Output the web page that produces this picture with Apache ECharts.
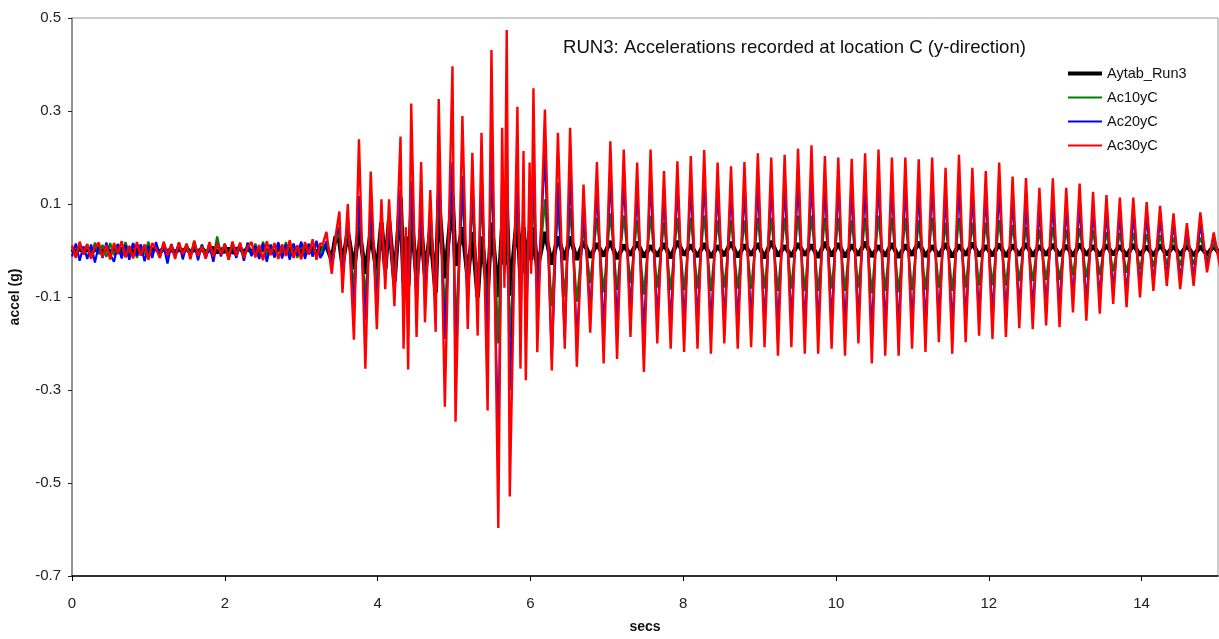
<!DOCTYPE html>
<html>
<head>
<meta charset="utf-8">
<script src="https://cdn.jsdelivr.net/npm/echarts@6/dist/echarts.min.js"></script>
<style>
  html, body { margin: 0; padding: 0; background: #fff; }
  #chart { width: 1219px; height: 639px; }
</style>
</head>
<body>
<div id="chart"></div>
<script>
// series names (legend order)
const seriesNames = ['Aytab_Run3', 'Ac10yC', 'Ac20yC', 'Ac30yC'];

// 0 - 3.25 s : pre-shaking noise, sampled every noiseStep seconds
const noiseStep = 0.05;
const noiseBlack = [
  0.003,-0.004,0.005,-0.002,0.004,-0.005,0.002,0.004,-0.003,0.005,
  -0.004,0.003,-0.005,0.004,-0.002,0.005,-0.004,0.003,-0.003,0.004,
  -0.005,0.002,0.004,-0.004,0.005,-0.003,0.003,-0.005,0.004,-0.002,
  0.005,-0.004,0.003,-0.003,0.004,-0.005,0.002,0.005,-0.004,0.003,
  -0.003,0.004,-0.005,0.003,0.004,-0.004,0.005,-0.003,0.002,-0.004,
  0.005,-0.003,0.004,-0.005,0.003,0.006,-0.004,0.005,-0.006,0.004,
  -0.005,0.006,-0.004,0.007,-0.006,0.005
];
const noiseGreen = [
  0.008,-0.012,0.015,-0.009,0.013,-0.015,0.017,-0.008,0.012,-0.014,
  0.016,-0.01,0.014,-0.013,0.018,-0.009,0.015,-0.016,0.012,-0.008,
  0.019,-0.013,0.014,-0.01,0.016,-0.015,0.013,-0.009,0.017,-0.013,
  0.015,-0.012,0.021,-0.014,0.013,-0.01,0.016,-0.015,0.03,-0.008,
  0.015,-0.013,0.018,-0.012,0.014,-0.016,0.017,-0.009,0.015,-0.014,
  0.019,-0.01,0.013,-0.015,0.016,-0.012,0.018,-0.013,0.014,-0.016,
  0.017,-0.01,0.015,-0.013,0.018,-0.012
];
const noiseBlue = [
  -0.013,0.015,-0.022,0.009,-0.018,0.013,-0.026,0.011,-0.016,0.017,
  -0.009,-0.024,0.014,-0.017,0.012,-0.02,0.016,-0.011,0.013,-0.023,
  0.01,-0.016,0.018,-0.013,0.009,-0.028,0.014,-0.012,0.016,-0.019,
  0.011,-0.015,0.015,-0.021,0.012,-0.017,0.009,-0.024,0.017,-0.013,
  0.014,-0.019,0.011,-0.016,0.013,-0.022,0.016,-0.012,0.01,-0.018,
  0.015,-0.024,0.012,-0.015,0.018,-0.017,0.013,-0.02,0.015,-0.011,
  0.019,-0.018,0.014,-0.013,0.021,-0.016
];
const noiseRed = [
  0.011,-0.016,0.019,-0.009,0.014,-0.018,0.007,0.017,-0.014,0.012,
  -0.019,0.016,-0.007,0.02,-0.015,0.01,-0.017,0.018,-0.011,0.013,
  -0.02,0.016,0.004,-0.016,0.019,-0.01,0.012,-0.018,0.017,-0.008,
  0.014,-0.019,0.021,-0.012,0.009,-0.017,0.018,-0.014,0.016,-0.009,
  0.013,-0.02,0.019,-0.011,0.017,-0.016,0.008,0.018,-0.015,0.012,
  -0.021,0.02,-0.01,0.016,-0.018,0.013,-0.012,0.022,-0.016,0.011,
  -0.019,0.018,-0.009,0.024,-0.02,0.016
];

// 3.28 - 6.45 s : strong shaking, turning points
const burstT = [
  3.28, 3.33, 3.40, 3.45, 3.50, 3.54, 3.61, 3.69, 3.756, 3.84,
  3.91, 3.99, 4.05, 4.10, 4.15, 4.22, 4.30, 4.34, 4.37, 4.40,
  4.44, 4.51, 4.57, 4.62, 4.69, 4.76, 4.80, 4.88, 4.98, 5.02,
  5.11, 5.18, 5.24, 5.31, 5.36, 5.44, 5.49, 5.58, 5.63, 5.66,
  5.69, 5.73, 5.83, 5.87, 5.91, 5.94, 5.99, 6.01, 6.04, 6.09,
  6.19, 6.28, 6.36, 6.45
];
const burstRed = [
  0.012, 0.04, -0.05, 0.03, 0.084, -0.091, 0.10, -0.192, 0.239, -0.254,
  0.17, -0.169, 0.11, -0.083, 0.11, -0.12, 0.245, -0.211, 0.05, -0.256,
  0.316, -0.186, 0.19, -0.154, 0.13, -0.175, 0.326, -0.336, 0.396, -0.368,
  0.289, -0.169, 0.21, -0.183, 0.253, -0.344, 0.431, -0.597, 0.264, -0.08,
  0.474, -0.529, 0.309, -0.254, 0.214, -0.279, 0.189, -0.05, 0.349, -0.219,
  0.303, -0.258, 0.253, -0.211
];
const burstBlue = [
  -0.008, 0.02, -0.03, 0.03, 0.05, -0.06, 0.07, -0.126, 0.117, -0.15,
  0.09, -0.11, 0.07, -0.06, 0.06, -0.09, 0.131, -0.15, 0.03, -0.17,
  0.149, -0.12, 0.1, -0.1, 0.09, -0.12, 0.19, -0.19, 0.19, -0.25,
  0.16, -0.12, 0.14, -0.12, 0.157, -0.207, 0.24, -0.426, 0.16, -0.05,
  0.232, -0.3, 0.18, -0.16, 0.12, -0.18, 0.1, -0.03, 0.2, -0.11,
  0.21, -0.233, 0.146, -0.19
];
const burstGreen = [
  0.006, 0.015, -0.02, 0.02, 0.04, -0.04, 0.05, -0.08, 0.09, -0.1,
  0.06, -0.07, 0.05, -0.04, 0.05, -0.06, 0.09, -0.1, 0.02, -0.11,
  0.1, -0.09, 0.08, -0.07, 0.06, -0.08, 0.14, -0.13, 0.15, -0.17,
  0.12, -0.09, 0.1, -0.08, 0.11, -0.15, 0.167, -0.2, 0.12, -0.04,
  0.14, -0.19, 0.12, -0.1, 0.09, -0.12, 0.07, -0.02, 0.13, -0.09,
  0.11, -0.12, 0.09, -0.1
];
const burstBlack = [
  0.004, 0.01, -0.02, 0.03, 0.02, -0.03, 0.04, -0.04, 0.05, -0.05,
  0.04, -0.05, 0.06, -0.04, 0.064, -0.067, 0.114, -0.067, 0.03, -0.076,
  0.082, -0.06, 0.05, -0.05, 0.04, -0.09, 0.11, -0.06, 0.117, -0.033,
  0.05, -0.06, 0.04, -0.1, 0.03, -0.09, 0.06, -0.1, 0.05, -0.03,
  0.093, -0.097, 0.08, -0.06, 0.05, -0.05, 0.04, -0.02, 0.05, -0.04,
  0.04, -0.03, 0.03, -0.02
];

// 6.52 s onward : free vibration, one peak + one trough per cycle
const cycleStart = 6.52;
const cyclePeriod = 0.1755;
const redHi = [
  0.264, 0.142, 0.19, 0.235, 0.217, 0.189, 0.217, 0.171, 0.192, 0.203,
  0.216, 0.189, 0.181, 0.19, 0.209, 0.2, 0.206, 0.219, 0.226, 0.203,
  0.2, 0.197, 0.209, 0.217, 0.2, 0.2, 0.196, 0.2, 0.178, 0.206,
  0.178, 0.171, 0.189, 0.159, 0.156, 0.135, 0.155, 0.135, 0.144, 0.126,
  0.119, 0.114, 0.114, 0.104, 0.096, 0.08, 0.059, 0.082, 0.039
];
const redLo = [
  -0.25, -0.177, -0.243, -0.233, -0.186, -0.261, -0.2, -0.211, -0.218, -0.211,
  -0.222, -0.2, -0.211, -0.208, -0.208, -0.226, -0.208, -0.222, -0.222, -0.211,
  -0.226, -0.2, -0.243, -0.226, -0.226, -0.211, -0.218, -0.197, -0.222, -0.197,
  -0.183, -0.19, -0.186, -0.167, -0.169, -0.161, -0.165, -0.133, -0.151, -0.136,
  -0.115, -0.122, -0.101, -0.087, -0.076, -0.083, -0.076, -0.047, -0.04
];
const blueHi = [
  0.17, 0.09, 0.13, 0.16, 0.15, 0.13, 0.15, 0.12, 0.14, 0.14,
  0.15, 0.13, 0.13, 0.13, 0.14, 0.14, 0.14, 0.15, 0.15, 0.14,
  0.14, 0.13, 0.14, 0.15, 0.14, 0.14, 0.13, 0.14, 0.12, 0.14,
  0.12, 0.12, 0.13, 0.11, 0.1, 0.09, 0.1, 0.09, 0.095, 0.085,
  0.08, 0.075, 0.075, 0.07, 0.065, 0.055, 0.045, 0.055, 0.03
];
const blueLo = [
  -0.2, -0.13, -0.17, -0.16, -0.13, -0.18, -0.15, -0.16, -0.16, -0.155,
  -0.165, -0.15, -0.155, -0.155, -0.155, -0.165, -0.155, -0.165, -0.165, -0.155,
  -0.165, -0.15, -0.175, -0.165, -0.17, -0.16, -0.16, -0.15, -0.165, -0.15,
  -0.14, -0.14, -0.14, -0.125, -0.125, -0.12, -0.12, -0.1, -0.11, -0.1,
  -0.085, -0.09, -0.075, -0.065, -0.055, -0.06, -0.055, -0.035, -0.03
];
const greenHi = [
  0.09, 0.05, 0.07, 0.08, 0.075, 0.065, 0.075, 0.06, 0.07, 0.07,
  0.075, 0.065, 0.065, 0.065, 0.07, 0.07, 0.07, 0.075, 0.075, 0.07,
  0.07, 0.065, 0.07, 0.075, 0.07, 0.07, 0.065, 0.07, 0.06, 0.07,
  0.06, 0.06, 0.065, 0.055, 0.05, 0.045, 0.05, 0.045, 0.048, 0.043,
  0.04, 0.038, 0.038, 0.035, 0.033, 0.028, 0.023, 0.028, 0.015
];
const greenLo = [
  -0.11, -0.07, -0.09, -0.085, -0.07, -0.095, -0.08, -0.085, -0.085, -0.082,
  -0.087, -0.08, -0.082, -0.082, -0.082, -0.087, -0.082, -0.087, -0.087, -0.082,
  -0.087, -0.08, -0.092, -0.087, -0.09, -0.085, -0.085, -0.08, -0.087, -0.08,
  -0.075, -0.075, -0.075, -0.066, -0.066, -0.063, -0.063, -0.053, -0.058, -0.053,
  -0.045, -0.048, -0.04, -0.035, -0.03, -0.032, -0.03, -0.02, -0.016
];
const blackHi = [
  0.03, 0.02, 0.015, 0.02, 0.012, 0.018, 0.01, 0.015, 0.02, 0.012,
  0.015, 0.01, 0.018, 0.012, 0.015, 0.02, 0.01, 0.015, 0.012, 0.018,
  0.015, 0.012, 0.018, 0.01, 0.015, 0.012, 0.018, 0.01, 0.015, 0.012,
  0.016, 0.01, 0.014, 0.012, 0.015, 0.01, 0.013, 0.011, 0.014, 0.01,
  0.012, 0.01, 0.013, 0.009, 0.012, 0.01, 0.011, 0.009, 0.01
];
const blackLo = [
  -0.02, -0.015, -0.012, -0.018, -0.01, -0.014, -0.012, -0.016, -0.01, -0.013,
  -0.015, -0.011, -0.014, -0.01, -0.016, -0.012, -0.013, -0.01, -0.015, -0.012,
  -0.014, -0.01, -0.013, -0.012, -0.015, -0.01, -0.013, -0.012, -0.014, -0.01,
  -0.012, -0.011, -0.013, -0.01, -0.012, -0.01, -0.011, -0.012, -0.01, -0.011,
  -0.009, -0.012, -0.01, -0.011, -0.009, -0.01, -0.011, -0.009, -0.01
];

// axis ticks
const xTicks = { min: 0, max: 15, step: 2 };
const yTicks = { min: -0.7, max: 0.5, step: 0.2 };

function buildSeries(noise, burst, hi, lo) {
  const pts = [];
  noise.forEach((v, i) => pts.push([+(i * noiseStep).toFixed(3), v]));
  burstT.forEach((t, i) => pts.push([t, burst[i]]));
  hi.forEach((v, k) => {
    const t = cycleStart + k * cyclePeriod;
    pts.push([t, v]);
    if (lo[k] !== undefined) pts.push([t + cyclePeriod / 2, lo[k]]);
  });
  return pts;
}

const font = 'Liberation Sans, Arial, sans-serif';
const chart = echarts.init(document.getElementById('chart'));

const lines = [
  { name: seriesNames[0], color: '#000000', width: 4.5, icon: 'path://M0,0H34V4H0Z', data: buildSeries(noiseBlack, burstBlack, blackHi, blackLo) },
  { name: seriesNames[1], color: '#008000', width: 2.2, icon: 'path://M0,0H34V2H0Z', data: buildSeries(noiseGreen, burstGreen, greenHi, greenLo) },
  { name: seriesNames[2], color: '#0000ff', width: 2.2, icon: 'path://M0,0H34V2H0Z', data: buildSeries(noiseBlue, burstBlue, blueHi, blueLo) },
  { name: seriesNames[3], color: '#ff0000', width: 2.4, icon: 'path://M0,0H34V2H0Z', data: buildSeries(noiseRed, burstRed, redHi, redLo) }
];

const option = {
  animation: false,
  backgroundColor: '#ffffff',
  textStyle: { fontFamily: font },
  title: {
    text: 'RUN3: Accelerations recorded at location C (y-direction)',
    left: 563,
    top: 38,
    padding: 0,
    textStyle: { fontFamily: font, fontSize: 18.6, fontWeight: 'normal', color: '#111' }
  },
  legend: {
    orient: 'vertical',
    left: 1068,
    top: 66,
    padding: 0,
    itemWidth: 34,
    itemHeight: 14,
    itemGap: 9,
    textStyle: { fontFamily: font, fontSize: 14.5, color: '#111' },
    data: lines.map(s => ({ name: s.name, icon: s.icon }))
  },
  grid: {
    left: 72, right: 1, top: 18, bottom: 61,
    show: true, borderColor: '#9a9a9a', borderWidth: 1
  },
  xAxis: {
    type: 'value',
    min: xTicks.min, max: xTicks.max, interval: xTicks.step,
    name: 'secs',
    nameLocation: 'middle',
    nameGap: 44,
    nameTextStyle: { fontFamily: font, fontSize: 14, fontWeight: 'bold', color: '#111' },
    axisLine: { show: true, onZero: false, lineStyle: { color: '#000', width: 1.5 } },
    axisTick: { show: true, length: 5, lineStyle: { color: '#000' } },
    axisLabel: { fontFamily: font, fontSize: 15, color: '#222', margin: 20, showMaxLabel: false },
    splitLine: { show: false }
  },
  yAxis: {
    type: 'value',
    min: yTicks.min, max: yTicks.max, interval: yTicks.step,
    name: 'accel (g)',
    nameLocation: 'middle',
    nameRotate: 90,
    nameGap: 50,
    nameTextStyle: { fontFamily: font, fontSize: 14, fontWeight: 'bold', color: '#111' },
    axisLine: { show: true, lineStyle: { color: '#808080', width: 1.5 } },
    axisTick: { show: true, length: 4, lineStyle: { color: '#222' } },
    axisLabel: {
      fontFamily: font, fontSize: 15, color: '#222', margin: 11,
      formatter: v => (+v).toFixed(1)
    },
    splitLine: { show: false }
  },
  series: lines.map(s => ({
    name: s.name,
    type: 'line',
    data: s.data,
    symbol: 'none',
    showSymbol: false,
    clip: true,
    color: s.color,
    lineStyle: { color: s.color, width: s.width },
    itemStyle: { color: s.color }
  }))
};

chart.setOption(option);
</script>
</body>
</html>
